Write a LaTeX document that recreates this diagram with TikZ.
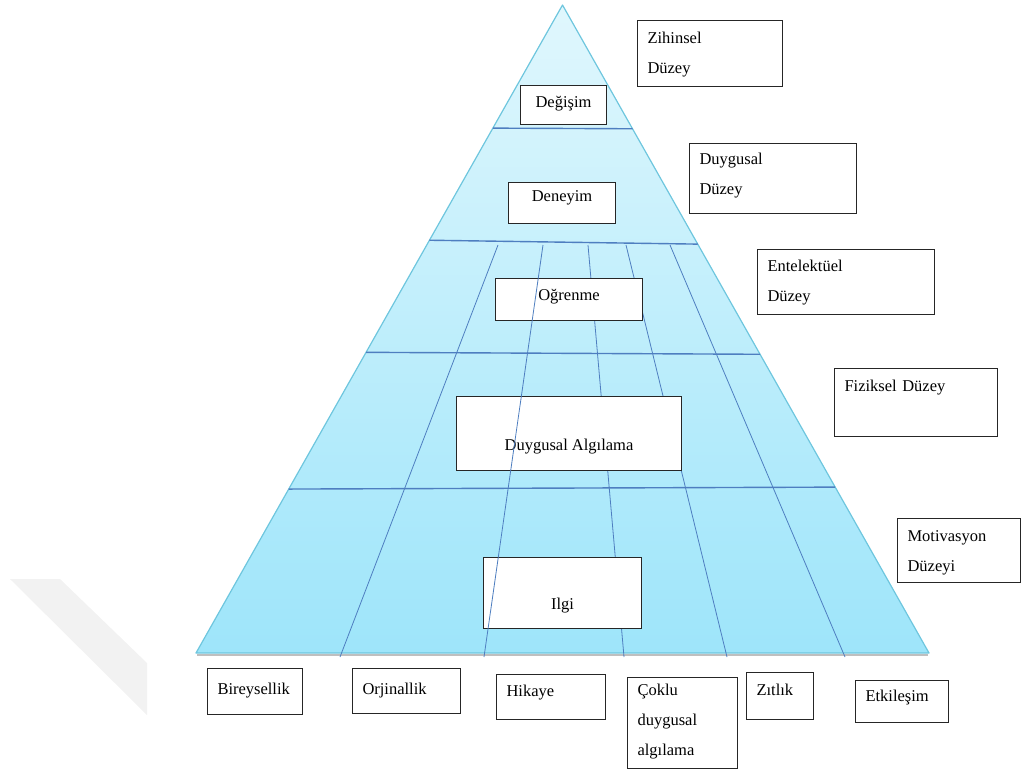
\documentclass[tikz,border=0pt]{standalone}
\usepackage{fontspec}
\setmainfont{Liberation Serif}
\usetikzlibrary{calc}
\definecolor{pyrtop}{RGB}{224,247,253}
\definecolor{pyrbot}{RGB}{158,229,250}
\definecolor{pyredge}{RGB}{110,198,222}
\definecolor{divline}{RGB}{78,126,192}
\begin{document}
\begin{tikzpicture}[x=1pt, y=-1pt,
        box/.style={draw=black!85, fill=white, line width=1pt, inner xsep=10pt, inner ysep=0pt,
            anchor=north west, align=left, font=\fontsize{16.5}{30}\selectfont},
        mid/.style={box, align=center}]
                \useasboundingbox (0,0) rectangle (1022,772);
                \fill[black!5] (10,579) -- (60,579) -- (147,663) -- (147,715) -- cycle;

                \coordinate (apex) at (562.5,5);
                \coordinate (bl) at (196,653);
                \coordinate (br) at (929,653);
                \shade[top color=pyrtop, bottom color=pyrbot] (apex) -- (bl) -- (br) -- cycle;
                \draw[black!25, line width=1.2pt] ($(bl)+(1,2)$) -- ($(br)+(-1,2)$);
                \draw[pyredge, line width=1.2pt, line join=round] (apex) -- (bl) -- (br) -- cycle;

                \foreach \l/\r in {0.19/0.191, 0.363/0.369, 0.536/0.539, 0.747/0.744}
                    \draw[divline, line width=1.4pt] ($(apex)!\l!(bl)$) -- ($(apex)!\r!(br)$);
                \foreach \t/\b in {498/340, 588/624, 626/727, 670/845}
                    \draw[divline, line width=0.8pt] (\t,245) -- (\b,657);

                \draw node[mid, minimum width=86, text height=22, text depth=17] (degisim) at (520,85) {Değişim};
                \draw node[mid, minimum width=107, text height=19, text depth=22] (deneyim) at (508,182) {Deneyim};
                \draw node[mid, minimum width=147, text height=22, text depth=20] (ogrenme) at (495,278) {Oğrenme};
                \draw node[mid, minimum width=225, text height=54, text depth=20] (algilama) at (456,396) {Duygusal Algılama};
                \draw node[mid, minimum width=158, text height=52, text depth=19] (ilgi) at (483,557) {Ilgi};

                \draw node[box, text width=125, text height=23, text depth=43] (zihinsel) at (637,20) {Zihinsel\\Düzey};
                \draw node[box, text width=147, text height=21, text depth=49] (duygusal) at (689,143) {Duygusal\\Düzey};
                \draw node[box, text width=157, text height=22, text depth=43] (entelektuel) at (757,249) {Entelektüel\\Düzey};
                \draw node[box, text width=143, text height=23, text depth=45] (fiziksel) at (834,368) {Fiziksel Düzey};
                \draw node[box, text width=103, text height=23, text depth=41] (motivasyon) at (897,518) {Motivasyon\\Düzeyi};

                \draw node[box, text width=75, text height=26, text depth=20] (bireysellik) at (207,668) {Bireysellik};
                \draw node[box, text width=88, text height=26, text depth=19] (orjinallik) at (352,668) {Orjinallik};
                \draw node[box, text width=89, text height=22, text depth=23] (hikaye) at (496,674) {Hikaye};
                \draw node[box, text width=90, text height=18, text depth=73] (coklu) at (627,677) {Çoklu\\duygusal\\algılama};
                \draw node[box, text width=47, text height=23, text depth=24] (zitlik) at (746,672) {Zıtlık};
                \draw node[box, text width=73, text height=21, text depth=21] (etkilesim) at (855,680) {Etkileşim};

                \draw[divline, line width=0.8pt] (543,245) -- (484,657);
\end{tikzpicture}
\end{document}
